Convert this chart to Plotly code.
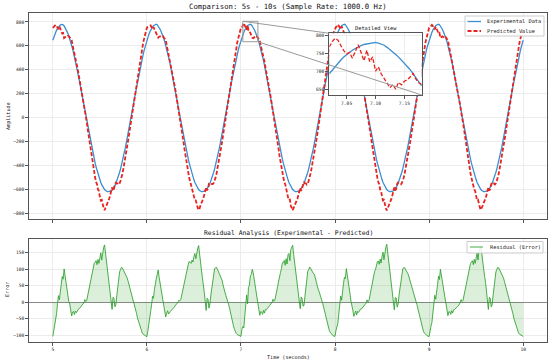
import plotly.graph_objects as go

# ---------------- data ----------------
# sample times (0.01 s grid, 5 s .. 10 s)
time = [round(5 + 0.01 * i, 2) for i in range(501)]

# experimental signal (per 0.01 s)
experimental = [
    646, 671, 693, 713, 731, 746, 758, 768, 774, 778, 780, 776, 766, 753, 739, 722, 704, 682, 659, 633,
    605, 575, 543, 509, 473, 436, 398, 358, 317, 275, 233, 189, 146, 102, 58, 14, -29, -73, -115, -157,
    -198, -238, -276, -313, -349, -383, -415, -445, -473, -499, -522, -544, -562, -579, -592, -603, -611, -617, -620, -620,
    -619, -617, -614, -608, -598, -586, -571, -553, -533, -511, -486, -459, -430, -399, -366, -331, -295, -257, -218, -178,
    -136, -94, -51, -8, 36, 80, 124, 168, 211, 254, 296, 338, 378, 417, 455, 491, 526, 559, 590, 619,
    646, 671, 693, 713, 731, 746, 758, 768, 774, 778, 780, 776, 766, 753, 739, 722, 704, 682, 659, 633,
    605, 575, 543, 509, 473, 436, 398, 358, 317, 275, 233, 189, 146, 102, 58, 14, -29, -73, -115, -157,
    -198, -238, -276, -313, -349, -383, -415, -445, -473, -499, -522, -544, -562, -579, -592, -603, -611, -617, -620, -620,
    -619, -617, -614, -608, -598, -586, -571, -553, -533, -511, -486, -459, -430, -399, -366, -331, -295, -257, -218, -178,
    -136, -94, -51, -8, 36, 80, 124, 168, 211, 254, 296, 338, 378, 417, 455, 491, 526, 559, 590, 619,
    646, 671, 693, 713, 731, 746, 758, 768, 774, 778, 780, 776, 766, 753, 739, 722, 704, 682, 659, 633,
    605, 575, 543, 509, 473, 436, 398, 358, 317, 275, 233, 189, 146, 102, 58, 14, -29, -73, -115, -157,
    -198, -238, -276, -313, -349, -383, -415, -445, -473, -499, -522, -544, -562, -579, -592, -603, -611, -617, -620, -620,
    -619, -617, -614, -608, -598, -586, -571, -553, -533, -511, -486, -459, -430, -399, -366, -331, -295, -257, -218, -178,
    -136, -94, -51, -8, 36, 80, 124, 168, 211, 254, 296, 338, 378, 417, 455, 491, 526, 559, 590, 619,
    646, 671, 693, 713, 731, 746, 758, 768, 774, 778, 780, 776, 766, 753, 739, 722, 704, 682, 659, 633,
    605, 575, 543, 509, 473, 436, 398, 358, 317, 275, 233, 189, 146, 102, 58, 14, -29, -73, -115, -157,
    -198, -238, -276, -313, -349, -383, -415, -445, -473, -499, -522, -544, -562, -579, -592, -603, -611, -617, -620, -620,
    -619, -617, -614, -608, -598, -586, -571, -553, -533, -511, -486, -459, -430, -399, -366, -331, -295, -257, -218, -178,
    -136, -94, -51, -8, 36, 80, 124, 168, 211, 254, 296, 338, 378, 417, 455, 491, 526, 559, 590, 619,
    646, 671, 693, 713, 731, 746, 758, 768, 774, 778, 780, 776, 766, 753, 739, 722, 704, 682, 659, 633,
    605, 575, 543, 509, 473, 436, 398, 358, 317, 275, 233, 189, 146, 102, 58, 14, -29, -73, -115, -157,
    -198, -238, -276, -313, -349, -383, -415, -445, -473, -499, -522, -544, -562, -579, -592, -603, -611, -617, -620, -620,
    -619, -617, -614, -608, -598, -586, -571, -553, -533, -511, -486, -459, -430, -399, -366, -331, -295, -257, -218, -178,
    -136, -94, -51, -8, 36, 80, 124, 168, 211, 254, 296, 338, 378, 417, 455, 491, 526, 559, 590, 619,
    646,
]

# residual (experimental - predicted) (per 0.01 s)
residual = [
    -104, -85, -72, -62, -35, -5, 20, 8, 42, 55, 78, 70, 101, 80, 62, 48, 22, 2, -6, -25,
    -42, -30, -28, -38, -27, -32, -24, -22, -20, -17, -14, -11, -7, -2, 8, 2, 5, 20, 32, 50,
    66, 82, 92, 100, 118, 122, 126, 114, 130, 118, 142, 150, 128, 158, 166, 174, 148, 120, 95, 78,
    60, 32, 5, -22, 15, 12, -14, -8, 20, 42, 75, 92, 100, 106, 104, 98, 92, 88, 84, 74,
    64, 54, 42, 32, 22, 10, 4, -6, -18, -34, -48, -58, -70, -80, -88, -93, -97, -99, -101, -103,
    -105, -88, -70, -58, -40, -8, 18, 12, 38, 60, 72, 85, 98, 76, 60, 45, 25, 0, -10, -28,
    -45, -33, -26, -36, -30, -28, -25, -20, -18, -15, -12, -9, -5, 0, 6, 4, 8, 22, 35, 52,
    68, 80, 95, 104, 115, 124, 120, 118, 128, 122, 138, 148, 132, 155, 163, 172, 152, 118, 98, 75,
    58, 30, 2, -25, 12, 8, -18, -5, 22, 45, 72, 90, 102, 105, 106, 100, 94, 86, 82, 76,
    66, 52, 44, 30, 20, 12, 2, -8, -20, -36, -50, -60, -72, -82, -90, -95, -98, -100, -102, -104,
    -104, -82, -74, -78, -40, -2, 22, -5, 45, 52, 80, 84, 100, 90, 70, 50, 20, 4, -4, -22,
    -40, -28, -30, -37, -25, -33, -22, -23, -19, -16, -13, -10, -6, -1, 9, 3, 6, 18, 30, 48,
    64, 84, 90, 102, 120, 120, 127, 112, 132, 116, 144, 148, 126, 160, 168, 173, 146, 122, 92, 80,
    62, 35, 6, -20, 16, 10, -12, -10, 18, 40, 76, 94, 99, 107, 103, 97, 93, 87, 85, 72,
    62, 55, 40, 33, 21, 9, 5, -5, -17, -33, -47, -57, -69, -79, -87, -92, -96, -100, -102, -104,
    -103, -86, -71, -64, -36, -6, 19, 6, 40, 57, 76, 72, 102, 78, 64, 46, 24, 3, -8, -26,
    -43, -31, -27, -39, -28, -31, -25, -21, -21, -18, -15, -12, -8, -3, 7, 1, 4, 21, 33, 51,
    67, 81, 93, 99, 117, 123, 125, 115, 131, 119, 140, 152, 129, 157, 167, 176, 150, 121, 96, 77,
    61, 33, 4, -23, 14, 13, -15, -7, 21, 43, 74, 91, 101, 105, 105, 99, 91, 89, 83, 75,
    65, 53, 43, 31, 23, 11, 3, -7, -19, -35, -49, -59, -71, -81, -89, -94, -97, -99, -101, -104,
    -104, -84, -73, -61, -34, -4, 21, 9, 43, 54, 79, 69, 100, 81, 61, 49, 21, 1, -5, -24,
    -41, -29, -29, -37, -26, -33, -23, -22, -20, -17, -14, -11, -7, -2, 8, 2, 5, 20, 32, 50,
    66, 82, 92, 100, 118, 122, 126, 114, 130, 118, 142, 150, 128, 158, 163, 170, 148, 120, 95, 78,
    60, 32, 5, -22, 15, 12, -14, -8, 20, 42, 75, 92, 100, 106, 104, 98, 92, 88, 84, 74,
    64, 54, 42, 32, 22, 10, 4, -6, -18, -34, -48, -58, -70, -80, -88, -93, -97, -99, -101, -103,
    -104,
]

# predicted value = experimental - residual
predicted = [e - r for e, r in zip(experimental, residual)]

# detailed view window (0.005 s grid)
detail_time = [round(7.02 + 0.005 * i, 3) for i in range(33)]
detail_exp = [693, 703, 713, 722, 731, 739, 746, 752, 758, 763, 768, 771, 774, 776, 778, 779, 780,
              778, 776, 772, 766, 760, 753, 746, 739, 731, 722, 713, 704, 693, 682, 671, 659]
detail_pred = [767, 782, 791, 786, 771, 757, 748, 752, 736, 755, 773, 752, 729, 758, 726, 740, 700,
               712, 692, 680, 666, 654, 663, 650, 669, 662, 672, 676, 684, 694, 678, 668, 663]

zoom_x = [7.02, 7.18]
zoom_y = [634, 805]

main_yticks = [-800, -600, -400, -200, 0, 200, 400, 600, 800]
res_yticks = [-100, -50, 0, 50, 100, 150]
x_ticks = [5, 6, 7, 8, 9, 10]
inset_xticks = [7.05, 7.10, 7.15]
inset_xlabels = ["7.05", "7.10", "7.15"]
inset_yticks = [650, 700, 750, 800]

# ---------------- layout helpers ----------------
W, H = 550, 363
FONT = "DejaVu Sans Mono, Liberation Mono, monospace"
BLUE = "#3c8ecf"
RED = "#e8221e"
GREEN = "rgba(44,160,44,0.85)"


def px(x):
    return x / W


def py(y):
    return 1 - y / H


main_dom_x = [px(29.3), px(546.7)]
main_dom_y = [py(219.0), py(13.3)]
res_dom_y = [py(341.7), py(239.0)]
ins_dom_x = [px(329.3), px(421.7)]
ins_dom_y = [py(95.0), py(33.3)]
main_xr = [4.75, 10.25]
main_yr = [-850, 872]
res_yr = [-120, 192]

fig = go.Figure()

fig.add_trace(go.Scatter(x=time, y=experimental, mode="lines", name="Experimental Data",
                         line=dict(color=BLUE, width=1.3), showlegend=False, xaxis="x", yaxis="y"))
fig.add_trace(go.Scatter(x=time, y=predicted, mode="lines", name="Predicted Value",
                         line=dict(color=RED, width=1.8, dash="4px,2px"), showlegend=False,
                         xaxis="x", yaxis="y"))
fig.add_trace(go.Scatter(x=time, y=residual, mode="lines", name="Residual (Error)",
                         line=dict(color=GREEN, width=1.0), fill="tozeroy",
                         fillcolor="rgba(44,160,44,0.17)", showlegend=False, xaxis="x2", yaxis="y2"))
fig.add_trace(go.Scatter(x=detail_time, y=detail_exp, mode="lines", line=dict(color=BLUE, width=1.3),
                         showlegend=False, xaxis="x3", yaxis="y3"))
fig.add_trace(go.Scatter(x=detail_time, y=detail_pred, mode="lines",
                         line=dict(color=RED, width=1.3, dash="4px,2px"),
                         showlegend=False, xaxis="x3", yaxis="y3"))

axis_common = dict(showline=True, mirror=True, linecolor="#555555", linewidth=1,
                   showgrid=True, gridcolor="#ececec", gridwidth=1, zeroline=False,
                   ticks="outside", ticklen=3, tickcolor="#555555", tickwidth=1,
                   tickfont=dict(family=FONT, size=4.6, color="#222"))

fig.update_layout(
    width=W, height=H, margin=dict(l=0, r=0, t=0, b=0),
    paper_bgcolor="white", plot_bgcolor="white",
    font=dict(family=FONT, color="#111"),
    xaxis=dict(domain=main_dom_x, range=main_xr, anchor="y", tickvals=x_ticks,
               showticklabels=False, **axis_common),
    yaxis=dict(domain=main_dom_y, range=main_yr, anchor="x", tickvals=main_yticks, **axis_common),
    xaxis2=dict(domain=main_dom_x, range=main_xr, anchor="y2", tickvals=x_ticks, **axis_common),
    yaxis2=dict(domain=res_dom_y, range=res_yr, anchor="x2", tickvals=res_yticks,
                **{**axis_common, "zeroline": True, "zerolinecolor": "#8a8a8a", "zerolinewidth": 1}),
    xaxis3=dict(domain=ins_dom_x, range=zoom_x, anchor="y3", tickvals=inset_xticks,
                ticktext=inset_xlabels, **axis_common),
    yaxis3=dict(domain=ins_dom_y, range=zoom_y, anchor="x3", tickvals=inset_yticks, **axis_common),
)

# zoom rectangle and connectors
def main_data_x(paper_x):
    return main_xr[0] + (paper_x - main_dom_x[0]) / (main_dom_x[1] - main_dom_x[0]) * (main_xr[1] - main_xr[0])


def main_data_y(paper_y):
    return main_yr[0] + (paper_y - main_dom_y[0]) / (main_dom_y[1] - main_dom_y[0]) * (main_yr[1] - main_yr[0])


GRAY = "#999999"
fig.add_shape(type="rect", xref="x", yref="y", x0=zoom_x[0], x1=zoom_x[1], y0=zoom_y[0], y1=zoom_y[1],
              line=dict(color=GRAY, width=1), layer="above")
fig.add_shape(type="line", xref="x", yref="y", x0=zoom_x[0], y0=zoom_y[1],
              x1=main_data_x(ins_dom_x[0]), y1=main_data_y(ins_dom_y[1]),
              line=dict(color=GRAY, width=1), layer="above")
fig.add_shape(type="line", xref="x", yref="y", x0=zoom_x[1], y0=zoom_y[0],
              x1=main_data_x(ins_dom_x[1]), y1=main_data_y(ins_dom_y[0]),
              line=dict(color=GRAY, width=1), layer="above")

# manual legends
def legend_box(x0, y0, x1, y1):
    fig.add_shape(type="rect", xref="paper", yref="paper", x0=px(x0), x1=px(x1), y0=py(y1), y1=py(y0),
                  line=dict(color="#cccccc", width=1), fillcolor="rgba(255,255,255,0.85)", layer="above")


def legend_item(xl0, xl1, yy, color, width, dash, text, xt, size):
    fig.add_shape(type="line", xref="paper", yref="paper", x0=px(xl0), x1=px(xl1), y0=py(yy), y1=py(yy),
                  line=dict(color=color, width=width, dash=dash), layer="above")
    fig.add_annotation(text=text, xref="paper", yref="paper", x=px(xt), y=py(yy), xanchor="left",
                       yanchor="middle", showarrow=False, font=dict(family=FONT, size=size, color="#222"))


legend_box(465, 16, 544, 36)
legend_item(467.5, 481, 21.5, BLUE, 1.3, "solid", "Experimental Data", 485, 5.3)
legend_item(467.5, 481, 31, RED, 1.8, "4px,2px", "Predicted Value", 485, 5.3)
legend_box(467, 241.5, 543, 253)
legend_item(470, 483, 247, GREEN, 1.0, "solid", "Residual (Error)", 488, 5.3)

# titles
def text(t, x, y, size, angle=0):
    fig.add_annotation(text=t, xref="paper", yref="paper", x=px(x), y=py(y), xanchor="center",
                       yanchor="middle", showarrow=False, textangle=angle,
                       font=dict(family=FONT, size=size, color="#111"))


text("Comparison: 5s - 10s (Sample Rate: 1000.0 Hz)", 288, 6.5, 7.3)
text("Residual Analysis (Experimental - Predicted)", 288, 232.5, 6.4)
text("Detailed View", 375.5, 27.5, 5.3)
text("Amplitude", 8, 116, 5.1, -90)
text("Error", 7, 290, 5.1, -90)
text("Time (seconds)", 288, 356.5, 5.1)

fig.write_html("out.html", config={"displayModeBar": False},
               post_script="document.body.style.margin='0';")
